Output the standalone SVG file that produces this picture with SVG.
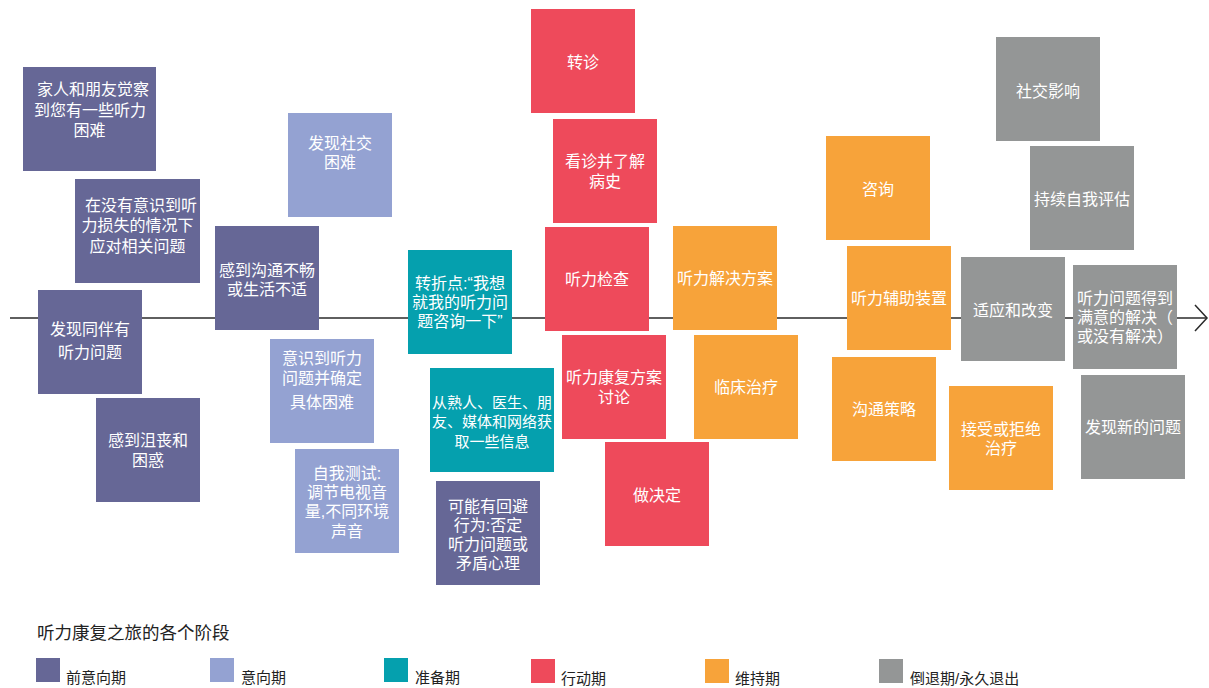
<svg xmlns="http://www.w3.org/2000/svg" width="1209" height="688" viewBox="0 0 1209 688">
<style>
.pre{fill:#666796}.con{fill:#94a2d2}.prep{fill:#05a0ae}.act{fill:#ee4a5b}.main{fill:#f7a33a}.rel{fill:#949696}
.t{font-family:"Liberation Sans","Noto Sans CJK SC",sans-serif;font-size:16px;fill:#ffffff;text-anchor:middle;dominant-baseline:central}
.lt{font-family:"Liberation Sans","Noto Sans CJK SC",sans-serif;fill:#222222;dominant-baseline:central}
.axis{stroke:#2a2a2a;stroke-width:1.5;fill:none}
</style>
<defs>
<marker id="arr" markerUnits="userSpaceOnUse" markerWidth="16" markerHeight="30" refX="13" refY="14" orient="auto" viewBox="0 0 16 30">
<path d="M1,1 L13,14 L1,27" fill="none" stroke="#2a2a2a" stroke-width="1.5"/>
</marker>
</defs>
<g id="connectors">
<line class="axis" x1="10" y1="318" x2="1207" y2="318" marker-end="url(#arr)"/>
</g>
<g id="n1"><rect class="pre" x="23" y="67" width="133" height="104"/><text class="t"><tspan x="93" y="89">家人和朋友觉察</tspan><tspan x="90" y="110">到您有一些听力</tspan><tspan x="89.5" y="129.5">困难</tspan></text></g>
<g id="n2"><rect class="pre" x="75" y="179" width="125" height="104"/><text class="t"><tspan x="141" y="205">在没有意识到听</tspan><tspan x="137.5" y="225">力损失的情况下</tspan><tspan x="137.5" y="246">应对相关问题</tspan></text></g>
<g id="n3"><rect class="pre" x="38" y="290" width="104" height="104"/><text class="t"><tspan x="90" y="329">发现同伴有</tspan><tspan x="90" y="352">听力问题</tspan></text></g>
<g id="n4"><rect class="pre" x="96" y="398" width="104" height="104"/><text class="t"><tspan x="148" y="440">感到沮丧和</tspan><tspan x="148" y="459.5">困惑</tspan></text></g>
<g id="n5"><rect class="pre" x="215" y="226" width="104" height="104"/><text class="t"><tspan x="267" y="270">感到沟通不畅</tspan><tspan x="267" y="288.5">或生活不适</tspan></text></g>
<g id="n6"><rect class="pre" x="436" y="481" width="104" height="104"/><text class="t"><tspan x="488" y="506">可能有回避</tspan><tspan x="488" y="525">行为:否定</tspan><tspan x="488" y="544">听力问题或</tspan><tspan x="488" y="563">矛盾心理</tspan></text></g>
<g id="n7"><rect class="con" x="288" y="113" width="104" height="104"/><text class="t"><tspan x="340" y="143">发现社交</tspan><tspan x="340" y="162">困难</tspan></text></g>
<g id="n8"><rect class="con" x="270" y="339" width="104" height="104"/><text class="t"><tspan x="322" y="358">意识到听力</tspan><tspan x="322" y="378">问题并确定</tspan><tspan x="322" y="401.5">具体困难</tspan></text></g>
<g id="n9"><rect class="con" x="295" y="449" width="104" height="104"/><text class="t"><tspan x="347" y="472.5">自我测试:</tspan><tspan x="347" y="491.5">调节电视音</tspan><tspan x="347" y="511">量,不同环境</tspan><tspan x="347" y="530.5">声音</tspan></text></g>
<g id="n10"><rect class="prep" x="408" y="250" width="104" height="104"/><text class="t"><tspan x="460" y="283">转折点:“我想</tspan><tspan x="460" y="301.5">就我的听力问</tspan><tspan x="460" y="320.5">题咨询一下”</tspan></text></g>
<g id="n11"><rect class="prep" x="430" y="368" width="124" height="104"/><text class="t" style="font-size:15px"><tspan x="492" y="402">从熟人、医生、朋</tspan><tspan x="492" y="421">友、媒体和网络获</tspan><tspan x="492" y="440.5">取一些信息</tspan></text></g>
<g id="n12"><rect class="act" x="531" y="9" width="104" height="104"/><text class="t"><tspan x="583" y="61.5">转诊</tspan></text></g>
<g id="n13"><rect class="act" x="553" y="119" width="104" height="104"/><text class="t"><tspan x="605" y="160.5">看诊并了解</tspan><tspan x="605" y="181">病史</tspan></text></g>
<g id="n14"><rect class="act" x="545" y="227" width="104" height="104"/><text class="t"><tspan x="597" y="279">听力检查</tspan></text></g>
<g id="n15"><rect class="act" x="562" y="335" width="104" height="104"/><text class="t"><tspan x="614" y="377">听力康复方案</tspan><tspan x="614" y="396.5">讨论</tspan></text></g>
<g id="n16"><rect class="act" x="605" y="442" width="104" height="104"/><text class="t"><tspan x="657" y="494.5">做决定</tspan></text></g>
<g id="n17"><rect class="main" x="673" y="226" width="104" height="104"/><text class="t"><tspan x="725" y="278">听力解决方案</tspan></text></g>
<g id="n18"><rect class="main" x="694" y="335" width="104" height="104"/><text class="t"><tspan x="746" y="387">临床治疗</tspan></text></g>
<g id="n19"><rect class="main" x="826" y="136" width="104" height="104"/><text class="t"><tspan x="878" y="189">咨询</tspan></text></g>
<g id="n20"><rect class="main" x="847" y="246" width="104" height="104"/><text class="t"><tspan x="899" y="298">听力辅助装置</tspan></text></g>
<g id="n21"><rect class="main" x="832" y="357" width="104" height="104"/><text class="t"><tspan x="884" y="408.5">沟通策略</tspan></text></g>
<g id="n22"><rect class="main" x="949" y="386" width="104" height="104"/><text class="t"><tspan x="1001" y="428.5">接受或拒绝</tspan><tspan x="1001" y="448">治疗</tspan></text></g>
<g id="n23"><rect class="rel" x="996" y="37" width="104" height="104"/><text class="t"><tspan x="1048" y="90.5">社交影响</tspan></text></g>
<g id="n24"><rect class="rel" x="1030" y="146" width="104" height="104"/><text class="t"><tspan x="1082" y="199">持续自我评估</tspan></text></g>
<g id="n25"><rect class="rel" x="961" y="257" width="104" height="104"/><text class="t"><tspan x="1013" y="310">适应和改变</tspan></text></g>
<g id="n26"><rect class="rel" x="1073" y="265" width="104" height="104"/><text class="t"><tspan x="1125" y="298">听力问题得到</tspan><tspan x="1125" y="317">满意的解决（</tspan><tspan x="1125" y="336">或没有解决）</tspan></text></g>
<g id="n27"><rect class="rel" x="1081" y="375" width="104" height="104"/><text class="t"><tspan x="1133" y="427">发现新的问题</tspan></text></g>
<g id="legend">
<text class="lt" x="37" y="633" style="font-size:17.5px">听力康复之旅的各个阶段</text>
<rect class="pre" x="36" y="658" width="24" height="24"/><text class="lt" x="66" y="677" style="font-size:15px">前意向期</text>
<rect class="con" x="210" y="658" width="24" height="24"/><text class="lt" x="241" y="677" style="font-size:15px">意向期</text>
<rect class="prep" x="384" y="658" width="24" height="24"/><text class="lt" x="415" y="677" style="font-size:15px">准备期</text>
<rect class="act" x="531" y="659" width="24" height="24"/><text class="lt" x="561" y="678" style="font-size:15px">行动期</text>
<rect class="main" x="705" y="659" width="24" height="24"/><text class="lt" x="735" y="678" style="font-size:15px">维持期</text>
<rect class="rel" x="879" y="659" width="24" height="24"/><text class="lt" x="910" y="678" style="font-size:15px">倒退期/永久退出</text>
</g>
</svg>
